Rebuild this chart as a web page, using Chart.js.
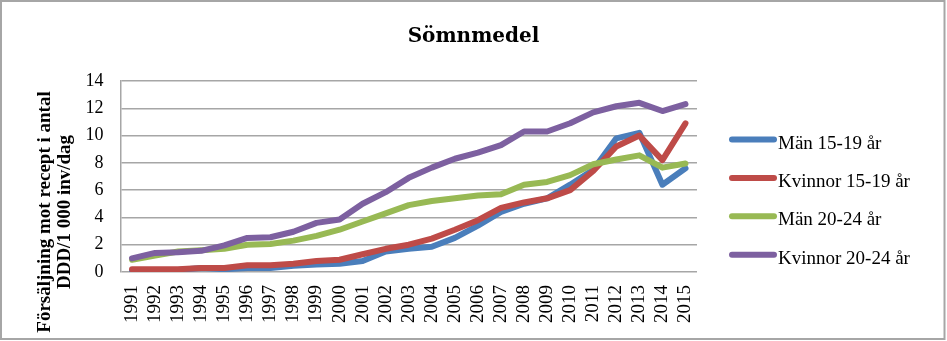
<!DOCTYPE html>
<html>
<head>
<meta charset="utf-8">
<script src="https://cdn.jsdelivr.net/npm/chart.js@4/dist/chart.umd.min.js"></script>
<style>
  html, body { margin: 0; padding: 0; background: #ffffff; }
  #wrap { position: relative; width: 947px; height: 341px; }
</style>
</head>
<body>
<div id="wrap"><canvas id="c" width="947" height="341"></canvas></div>
<script>
const years = ["1991","1992","1993","1994","1995","1996","1997","1998","1999","2000","2001","2002","2003","2004","2005","2006","2007","2008","2009","2010","2011","2012","2013","2014","2015"];
const man1519 = [0.1,0.1,0.15,0.3,0.2,0.3,0.3,0.45,0.55,0.6,0.8,1.5,1.7,1.85,2.5,3.4,4.4,5.0,5.4,6.4,7.5,9.8,10.2,6.4,7.6];
const kvinnor1519 = [0.2,0.2,0.2,0.3,0.3,0.5,0.5,0.6,0.8,0.9,1.3,1.7,2.0,2.45,3.1,3.8,4.7,5.1,5.4,6.0,7.4,9.2,10.0,8.2,10.9];
const man2024 = [0.9,1.2,1.5,1.6,1.7,2.0,2.05,2.3,2.65,3.1,3.7,4.3,4.9,5.2,5.4,5.6,5.7,6.4,6.6,7.1,7.9,8.25,8.55,7.65,7.95];
const kvinnor2024 = [1.0,1.4,1.45,1.55,1.95,2.5,2.55,2.95,3.6,3.85,5.0,5.85,6.9,7.65,8.3,8.75,9.3,10.3,10.3,10.9,11.7,12.15,12.4,11.8,12.3];
const seriesNames = ["Män 15-19 år","Kvinnor 15-19 år","Män 20-24 år","Kvinnor 20-24 år"];
const seriesColors = ["#4a7ebb","#be4b48","#98b954","#7d60a0"];
const yTicks = [0,2,4,6,8,10,12,14];
const titleText = "Sömnmedel";
const yTitleLines = ["Försäljning mot recept i antal","DDD/1 000 inv/dag"];

const seriesData = [man1519, kvinnor1519, man2024, kvinnor2024];

const frame = {
  id: 'frame',
  afterDraw(chart) {
    const ctx = chart.ctx;
    ctx.save();
    ctx.strokeStyle = '#a6a6a6';
    ctx.lineWidth = 2;
    ctx.strokeRect(1, 1, 943.5, 338);
    ctx.restore();
  }
};

const titlePlugin = {
  id: 'titleText',
  afterDraw(chart) {
    const ctx = chart.ctx;
    ctx.save();
    ctx.fillStyle = '#000';
    ctx.font = 'bold 20px "DejaVu Serif"';
    ctx.textAlign = 'center';
    ctx.textBaseline = 'alphabetic';
    ctx.fillText(titleText, chart.width / 2, 42);
    ctx.restore();
  }
};

const yTitle = {
  id: 'yTitle',
  afterDraw(chart) {
    const ctx = chart.ctx;
    ctx.save();
    ctx.fillStyle = '#000';
    ctx.font = 'bold 19px "Liberation Serif"';
    ctx.textAlign = 'center';
    ctx.textBaseline = 'middle';
    const cx = chart.chartArea.left - 75;
    const cy = 212;
    yTitleLines.forEach((t, i) => {
      ctx.save();
      ctx.translate(cx + i * 20, cy);
      ctx.rotate(-Math.PI / 2);
      ctx.fillText(t, 0, 0);
      ctx.restore();
    });
    ctx.restore();
  }
};

const legendPlugin = {
  id: 'customLegend',
  afterDraw(chart) {
    const ctx = chart.ctx;
    const x0 = chart.chartArea.right + 35;
    const y0 = 139.5;
    const step = 38.4;
    ctx.save();
    ctx.font = '19px "Liberation Serif"';
    ctx.textBaseline = 'alphabetic';
    ctx.textAlign = 'left';
    seriesNames.forEach((name, i) => {
      const y = y0 + i * step;
      ctx.strokeStyle = seriesColors[i];
      ctx.lineWidth = 6;
      ctx.lineCap = 'round';
      ctx.beginPath();
      ctx.moveTo(x0, y);
      ctx.lineTo(x0 + 42, y);
      ctx.stroke();
      ctx.fillStyle = '#000';
      ctx.fillText(name, x0 + 46, y + 9);
    });
    ctx.restore();
  }
};

new Chart(document.getElementById('c'), {
  type: 'line',
  data: {
    labels: years,
    datasets: seriesNames.map((n, i) => ({
      label: n,
      data: seriesData[i],
      borderColor: seriesColors[i],
      backgroundColor: seriesColors[i],
      borderWidth: 6,
      pointRadius: 0,
      pointHoverRadius: 0,
      tension: 0,
      borderJoinStyle: 'round',
      borderCapStyle: 'round',
      fill: false,
      order: 4 - i
    }))
  },
  options: {
    responsive: false,
    animation: false,
    devicePixelRatio: 1,
    layout: { padding: { left: 80, right: 250, top: 81, bottom: 0 } },
    plugins: {
      legend: { display: false },
      tooltip: { enabled: false },
      title: { display: false }
    },
    scales: {
      x: {
        type: 'category',
        offset: true,
        grid: { display: false, drawTicks: false },
        border: { display: false },
        ticks: {
          color: '#000',
          font: { family: '"Liberation Serif"', size: 19 },
          minRotation: 90,
          maxRotation: 90,
          padding: 13,
          autoSkip: false
        },
        afterFit(scale) { scale.height = 69; }
      },
      y: {
        min: 0,
        max: 14,
        afterBuildTicks(scale) { scale.ticks = yTicks.map(v => ({ value: v })); },
        grid: { color: '#a6a6a6', lineWidth: 1.5, drawTicks: false },
        border: { display: true, color: '#a6a6a6', width: 1.5 },
        ticks: {
          color: '#000',
          font: { family: '"Liberation Serif"', size: 18 },
          padding: 17
        },
        afterFit(scale) { scale.width = 40.5; }
      }
    }
  },
  plugins: [frame, titlePlugin, yTitle, legendPlugin]
});
</script>
</body>
</html>
